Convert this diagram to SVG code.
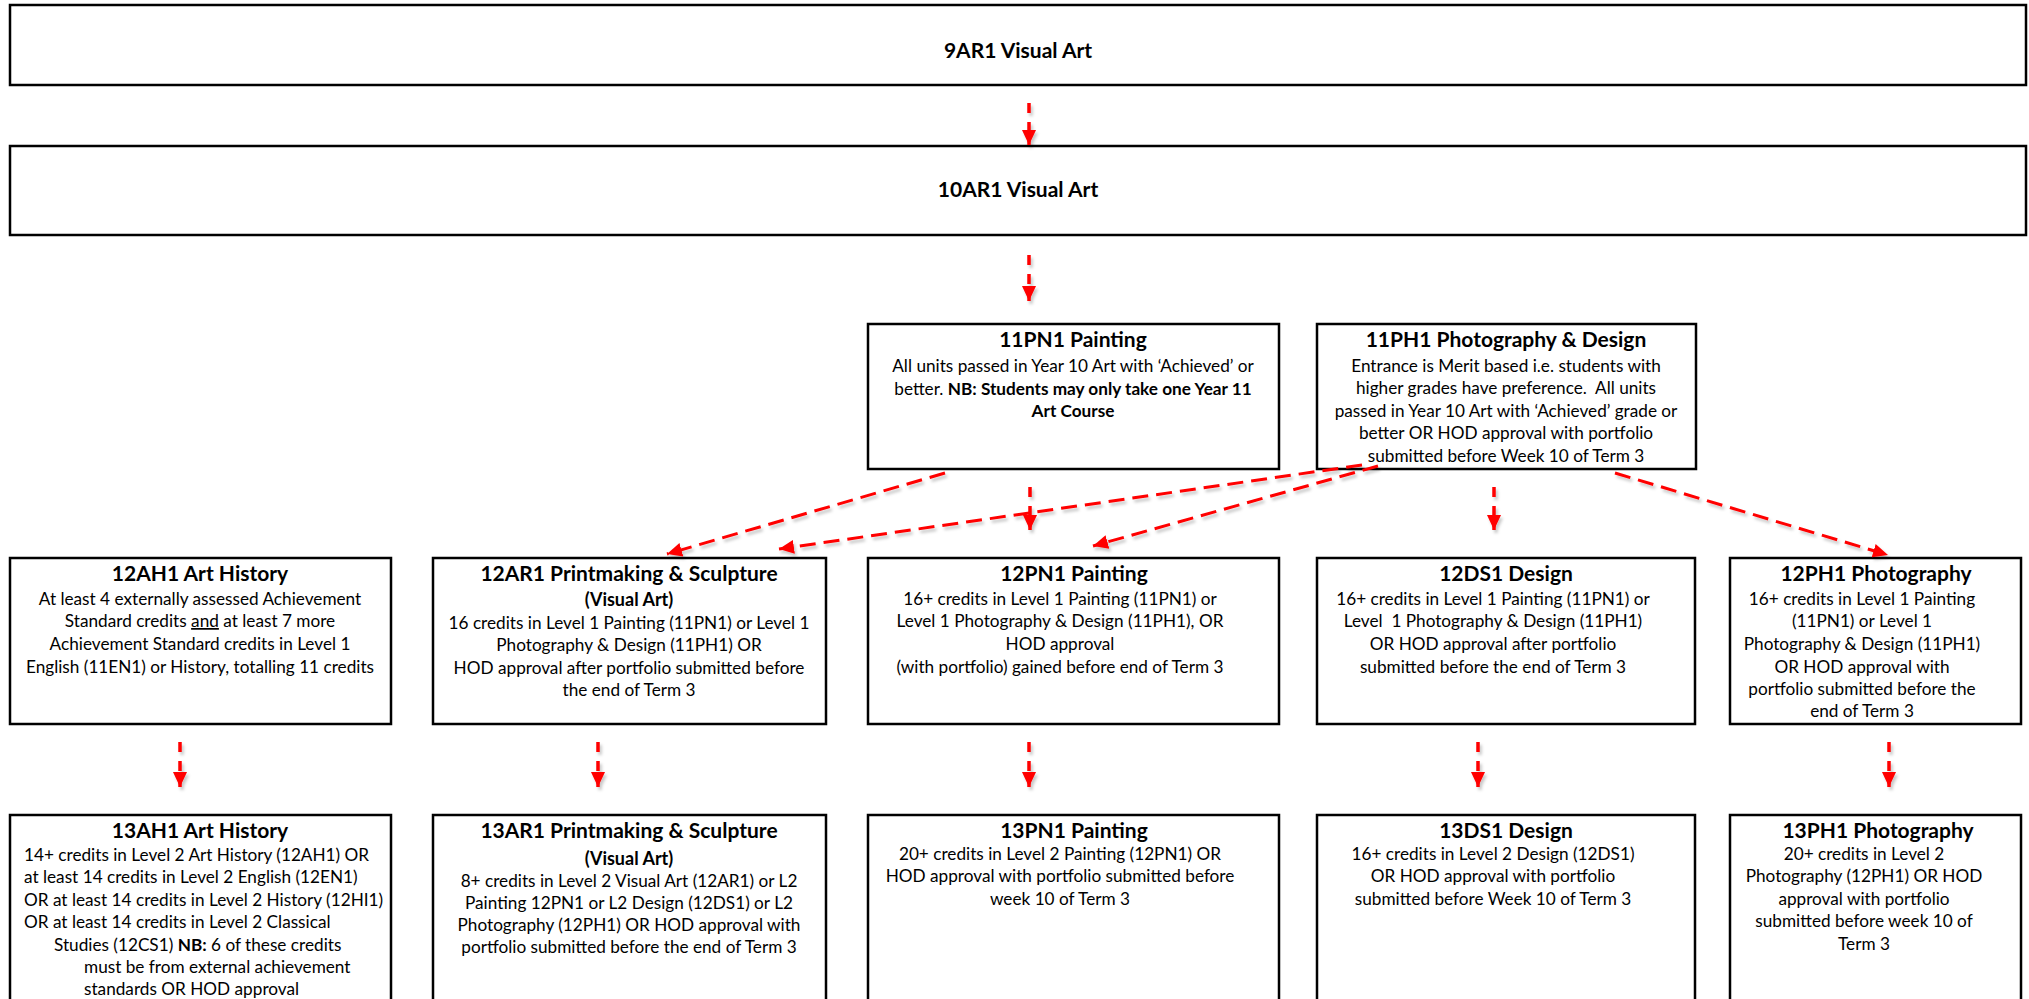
<svg xmlns="http://www.w3.org/2000/svg" width="2029" height="999" viewBox="0 0 2029 999">
<style>
.box{fill:#fff;stroke:#000;stroke-width:2.5}
text{font-family:Lato,"Open Sans","Liberation Sans",sans-serif;fill:#000;text-anchor:middle}
.t{font-size:21px;font-weight:bold}
.b{font-size:17.2px}
.va{font-size:18px;font-weight:bold}
.l{text-anchor:start}
.c{fill:none;stroke:#f00;stroke-width:3}
.v{stroke-dasharray:10 9;stroke-width:3.5}
.d{stroke-dasharray:16 8}
</style>
<defs>
<marker id="ah" markerUnits="userSpaceOnUse" markerWidth="16" markerHeight="16" viewBox="0 0 16 16" refX="15" refY="8" orient="auto">
<path d="M0,1 L15,8 L0,15 z" fill="#f00"/>
</marker>
<filter id="sh" x="-20%" y="-20%" width="140%" height="140%">
<feDropShadow dx="2" dy="3" stdDeviation="1.5" flood-color="#000" flood-opacity="0.22"/>
</filter>
</defs>
<rect width="2029" height="999" fill="#fff"/>

<g id="n9AR1"><rect class="box" x="10" y="5" width="2016" height="80"/><text class="t" x="1018" y="58">9AR1 Visual Art</text></g>
<g id="n10AR1"><rect class="box" x="10" y="146" width="2016" height="89"/><text class="t" x="1018" y="197">10AR1 Visual Art</text></g>

<g id="n11PN1"><rect class="box" x="868" y="324" width="411" height="145"/>
<text class="t" x="1073" y="347">11PN1 Painting</text>
<text class="b" x="1073" y="372">All units passed in Year 10 Art with ‘Achieved’ or</text>
<text class="b" x="1073" y="395">better. <tspan font-weight="bold">NB: Students may only take one Year 11</tspan></text>
<text class="b" x="1073" y="417" font-weight="bold">Art Course</text></g>

<g id="n11PH1"><rect class="box" x="1317" y="324" width="379" height="145"/>
<text class="t" x="1506" y="347">11PH1 Photography &amp; Design</text>
<text class="b" x="1506" y="372">Entrance is Merit based i.e. students with</text>
<text class="b" x="1506" y="394" xml:space="preserve">higher grades have preference.  All units</text>
<text class="b" x="1506" y="417">passed in Year 10 Art with ‘Achieved’ grade or</text>
<text class="b" x="1506" y="439">better OR HOD approval with portfolio</text>
<text class="b" x="1506" y="462">submitted before Week 10 of Term 3</text></g>

<g id="n12AH1"><rect class="box" x="10" y="558" width="381" height="166"/>
<text class="t" x="200" y="581">12AH1 Art History</text>
<text class="b" x="200" y="605">At least 4 externally assessed Achievement</text>
<text class="b" x="200" y="627">Standard credits <tspan text-decoration="underline">and</tspan> at least 7 more</text>
<text class="b" x="200" y="650">Achievement Standard credits in Level 1</text>
<text class="b" x="200" y="673">English (11EN1) or History, totalling 11 credits</text></g>

<g id="n12AR1"><rect class="box" x="433" y="558" width="393" height="166"/>
<text class="t" x="629" y="581">12AR1 Printmaking &amp; Sculpture</text>
<text class="va" x="629" y="606">(Visual Art)</text>
<text class="b" x="629" y="629">16 credits in Level 1 Painting (11PN1) or Level 1</text>
<text class="b" x="629" y="651">Photography &amp; Design (11PH1) OR</text>
<text class="b" x="629" y="674">HOD approval after portfolio submitted before</text>
<text class="b" x="629" y="696">the end of Term 3</text></g>

<g id="n12PN1"><rect class="box" x="868" y="558" width="411" height="166"/>
<text class="t" x="1074" y="581">12PN1 Painting</text>
<text class="b" x="1060" y="605">16+ credits in Level 1 Painting (11PN1) or</text>
<text class="b" x="1060" y="627">Level 1 Photography &amp; Design (11PH1), OR</text>
<text class="b" x="1060" y="650">HOD approval</text>
<text class="b" x="1060" y="673">(with portfolio) gained before end of Term 3</text></g>

<g id="n12DS1"><rect class="box" x="1317" y="558" width="378" height="166"/>
<text class="t" x="1506" y="581">12DS1 Design</text>
<text class="b" x="1493" y="605">16+ credits in Level 1 Painting (11PN1) or</text>
<text class="b" x="1493" y="627" xml:space="preserve">Level  1 Photography &amp; Design (11PH1)</text>
<text class="b" x="1493" y="650">OR HOD approval after portfolio</text>
<text class="b" x="1493" y="673">submitted before the end of Term 3</text></g>

<g id="n12PH1"><rect class="box" x="1730" y="558" width="291" height="166"/>
<text class="t" x="1876" y="581">12PH1 Photography</text>
<text class="b" x="1862" y="605">16+ credits in Level 1 Painting</text>
<text class="b" x="1862" y="627">(11PN1) or Level 1</text>
<text class="b" x="1862" y="650">Photography &amp; Design (11PH1)</text>
<text class="b" x="1862" y="673">OR HOD approval with</text>
<text class="b" x="1862" y="695">portfolio submitted before the</text>
<text class="b" x="1862" y="717">end of Term 3</text></g>

<g id="n13AH1"><rect class="box" x="10" y="815" width="381" height="200"/>
<text class="t" x="200" y="838">13AH1 Art History</text>
<text class="b l" x="24" y="861">14+ credits in Level 2 Art History (12AH1) OR</text>
<text class="b l" x="24" y="883">at least 14 credits in Level 2 English (12EN1)</text>
<text class="b l" x="24" y="906">OR at least 14 credits in Level 2 History (12HI1)</text>
<text class="b l" x="24" y="928">OR at least 14 credits in Level 2 Classical</text>
<text class="b l" x="54" y="951">Studies (12CS1) <tspan font-weight="bold">NB:</tspan> 6 of these credits</text>
<text class="b l" x="84" y="973">must be from external achievement</text>
<text class="b l" x="84" y="995">standards OR HOD approval</text></g>

<g id="n13AR1"><rect class="box" x="433" y="815" width="393" height="200"/>
<text class="t" x="629" y="838">13AR1 Printmaking &amp; Sculpture</text>
<text class="va" x="629" y="865">(Visual Art)</text>
<text class="b" x="629" y="887">8+ credits in Level 2 Visual Art (12AR1) or L2</text>
<text class="b" x="629" y="909">Painting 12PN1 or L2 Design (12DS1) or L2</text>
<text class="b" x="629" y="931">Photography (12PH1) OR HOD approval with</text>
<text class="b" x="629" y="953">portfolio submitted before the end of Term 3</text></g>

<g id="n13PN1"><rect class="box" x="868" y="815" width="411" height="200"/>
<text class="t" x="1074" y="838">13PN1 Painting</text>
<text class="b" x="1060" y="860">20+ credits in Level 2 Painting (12PN1) OR</text>
<text class="b" x="1060" y="882">HOD approval with portfolio submitted before</text>
<text class="b" x="1060" y="905">week 10 of Term 3</text></g>

<g id="n13DS1"><rect class="box" x="1317" y="815" width="378" height="200"/>
<text class="t" x="1506" y="838">13DS1 Design</text>
<text class="b" x="1493" y="860">16+ credits in Level 2 Design (12DS1)</text>
<text class="b" x="1493" y="882">OR HOD approval with portfolio</text>
<text class="b" x="1493" y="905">submitted before Week 10 of Term 3</text></g>

<g id="n13PH1"><rect class="box" x="1730" y="815" width="291" height="200"/>
<text class="t" x="1878" y="838">13PH1 Photography</text>
<text class="b" x="1864" y="860">20+ credits in Level 2</text>
<text class="b" x="1864" y="882">Photography (12PH1) OR HOD</text>
<text class="b" x="1864" y="905">approval with portfolio</text>
<text class="b" x="1864" y="927">submitted before week 10 of</text>
<text class="b" x="1864" y="950">Term 3</text></g>

<g id="connectors" filter="url(#sh)">
<path class="c v" d="M1029,103 V145" marker-end="url(#ah)"/>
<path class="c v" d="M1029,255 V301" marker-end="url(#ah)"/>
<path class="c v" d="M1030,487 V530" marker-end="url(#ah)"/>
<path class="c v" d="M1494,487 V530" marker-end="url(#ah)"/>
<path class="c d" d="M945,473 L667,554" marker-end="url(#ah)"/>
<path class="c d" d="M1362,465 L779,549" marker-end="url(#ah)"/>
<path class="c d" d="M1378,466 L1093,546" marker-end="url(#ah)"/>
<path class="c d" d="M1615,473 L1888,555" marker-end="url(#ah)"/>
<path class="c v" d="M180,742 V787" marker-end="url(#ah)"/>
<path class="c v" d="M598,742 V787" marker-end="url(#ah)"/>
<path class="c v" d="M1029,742 V787" marker-end="url(#ah)"/>
<path class="c v" d="M1478,742 V787" marker-end="url(#ah)"/>
<path class="c v" d="M1889,742 V787" marker-end="url(#ah)"/>
</g>
</svg>
